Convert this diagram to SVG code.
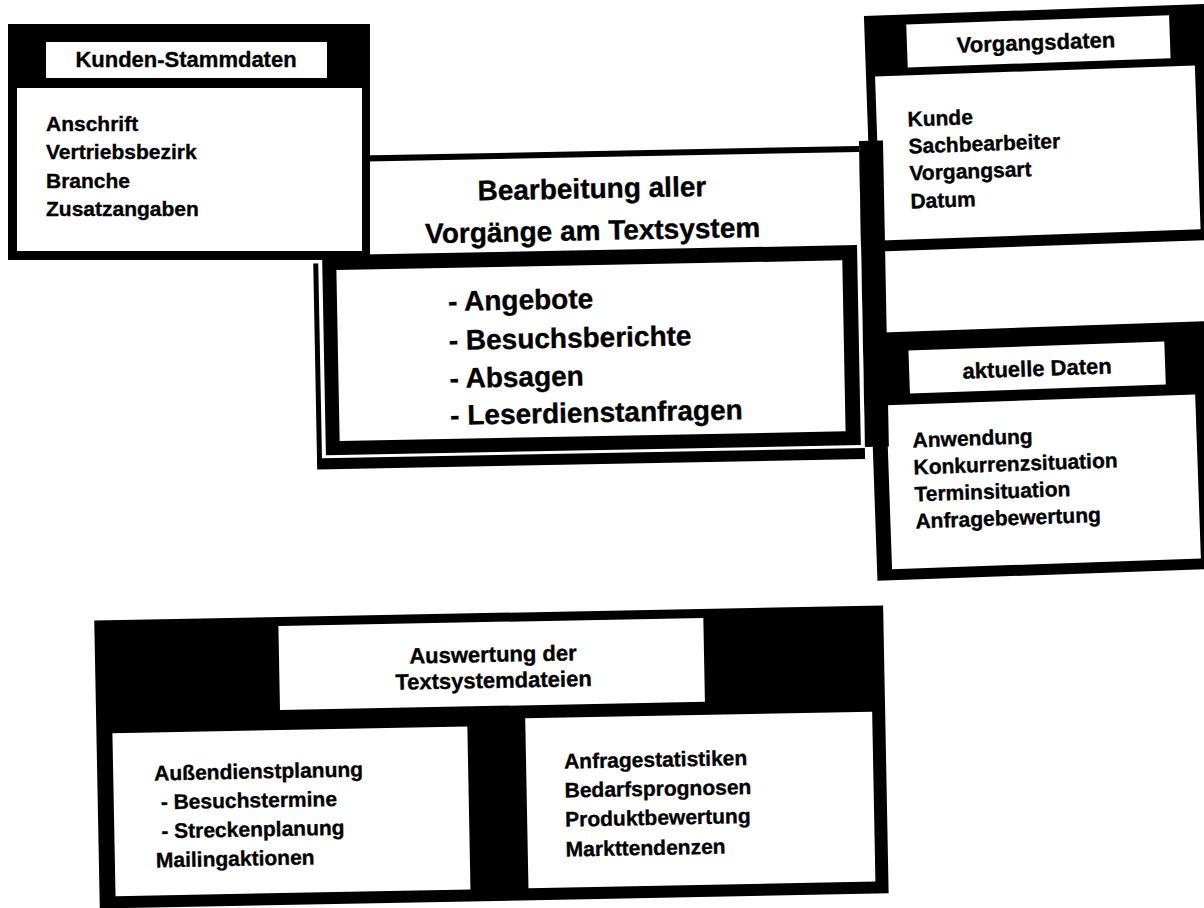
<svg xmlns="http://www.w3.org/2000/svg" width="1204" height="908" viewBox="0 0 1204 908">
<style>
  .blk{fill:#000}
  .wht{fill:#fff}
  text{font-family:"Liberation Sans",Arial,Helvetica,sans-serif;fill:#000;font-weight:bold;stroke:#000;stroke-width:0.35}
  .hd{font-size:22px;text-anchor:middle}
  .it{font-size:21px}
  .big{font-size:28px}
  .bigc{font-size:28px;text-anchor:middle}
</style>
<rect width="1204" height="908" fill="#fff"/>

<g id="vorgangsdaten" transform="rotate(-2 1036 130)">
  <rect class="blk" x="868" y="10" width="345" height="236"/>
  <rect class="wht" x="910" y="20" width="263" height="43"/>
  <rect class="wht" x="877" y="71" width="320" height="164"/>
  <text class="hd" x="1039" y="50">Vorgangsdaten</text>
  <text class="it" x="908" y="122">Kunde</text>
  <text class="it" x="908" y="149">Sachbearbeiter</text>
  <text class="it" x="908" y="176">Vorgangsart</text>
  <text class="it" x="908" y="204">Datum</text>
</g>

<g id="aktuelle-daten" transform="rotate(-2 1040 450)">
  <rect class="blk" x="873" y="327" width="340" height="248"/>
  <rect class="wht" x="912" y="346" width="256" height="43"/>
  <rect class="wht" x="888" y="400" width="309" height="164"/>
  <text class="hd" x="1040" y="376">aktuelle Daten</text>
  <text class="it" x="913" y="443">Anwendung</text>
  <text class="it" x="913" y="470">Konkurrenzsituation</text>
  <text class="it" x="913" y="497">Terminsituation</text>
  <text class="it" x="913" y="524">Anfragebewertung</text>
</g>

<g id="bearbeitung" transform="rotate(-1.1 600 300)">
  <rect class="blk" x="362" y="151" width="500" height="105"/>
  <rect class="wht" x="370" y="157" width="492" height="99"/>
  <rect class="blk" x="862" y="146" width="24" height="306"/>
  <text class="bigc" x="594" y="198">Bearbeitung aller</text>
  <text class="bigc" x="594" y="240">Vorgänge am Textsystem</text>
  <rect class="blk" x="314" y="258" width="548" height="206"/>
  <rect class="wht" x="319" y="250" width="543" height="203"/>
  <rect class="blk" x="323" y="250" width="535" height="200"/>
  <rect class="wht" x="337" y="265" width="506" height="171"/>
  <text class="big" x="448" y="308">- Angebote</text>
  <text class="big" x="448" y="347">- Besuchsberichte</text>
  <text class="big" x="448" y="385">- Absagen</text>
  <text class="big" x="448" y="422">- Leserdienstanfragen</text>
</g>

<g id="kunden-stammdaten">
  <rect class="blk" x="8" y="24" width="362" height="236"/>
  <rect class="wht" x="46" y="42" width="281" height="36"/>
  <rect class="wht" x="17" y="88" width="345" height="163"/>
  <text class="hd" x="186" y="67">Kunden-Stammdaten</text>
  <text class="it" x="46" y="131">Anschrift</text>
  <text class="it" x="46" y="159">Vertriebsbezirk</text>
  <text class="it" x="46" y="188">Branche</text>
  <text class="it" x="46" y="216">Zusatzangaben</text>
</g>

<g id="auswertung" transform="rotate(-1.1 490 760)">
  <rect class="blk" x="97" y="613" width="789" height="288"/>
  <rect class="wht" x="281" y="622" width="425" height="84"/>
  <text class="hd" x="495" y="662">Auswertung der</text>
  <text class="hd" x="495" y="688">Textsystemdateien</text>
  <rect class="wht" x="113" y="726" width="355" height="163"/>
  <text class="it" x="154" y="774">Außendienstplanung</text>
  <text class="it" x="160" y="803">- Besuchstermine</text>
  <text class="it" x="160" y="832">- Streckenplanung</text>
  <text class="it" x="154" y="861">Mailingaktionen</text>
  <rect class="wht" x="526" y="719" width="347" height="170"/>
  <text class="it" x="564" y="770">Anfragestatistiken</text>
  <text class="it" x="564" y="799">Bedarfsprognosen</text>
  <text class="it" x="564" y="828">Produktbewertung</text>
  <text class="it" x="564" y="858">Markttendenzen</text>
</g>

<g id="connectors"></g>
</svg>
